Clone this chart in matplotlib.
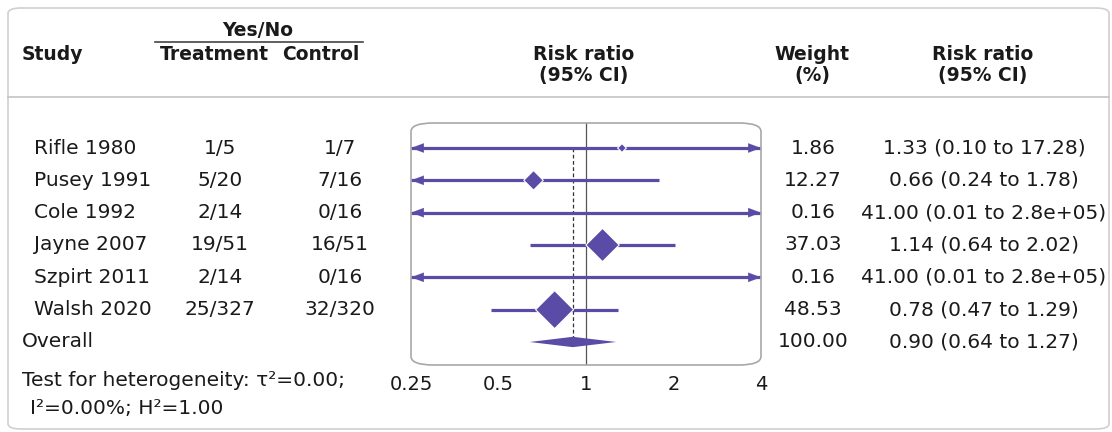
import matplotlib

matplotlib.use("Agg")
import matplotlib.pyplot as plt
from matplotlib.patches import FancyBboxPatch, Polygon
import numpy as np

plt.rcParams["font.family"] = ["DejaVu Sans"]

# --- study-level data --------------------------------------------------------
studies = ["Rifle 1980", "Pusey 1991", "Cole 1992", "Jayne 2007", "Szpirt 2011", "Walsh 2020"]
treatment = ["1/5", "5/20", "2/14", "19/51", "2/14", "25/327"]
control = ["1/7", "7/16", "0/16", "16/51", "0/16", "32/320"]
rr = [1.33, 0.66, 41.00, 1.14, 41.00, 0.78]
ci_low = [0.10, 0.24, 0.01, 0.64, 0.01, 0.47]
ci_high = [17.28, 1.78, 2.8e05, 2.02, 2.8e05, 1.29]
ci_text = ["1.33 (0.10 to 17.28)", "0.66 (0.24 to 1.78)", "41.00 (0.01 to 2.8e+05)",
           "1.14 (0.64 to 2.02)", "41.00 (0.01 to 2.8e+05)", "0.78 (0.47 to 1.29)"]
weights = [1.86, 12.27, 0.16, 37.03, 0.16, 48.53]

overall_rr = 0.90
overall_low = 0.64
overall_high = 1.27
overall_weight = 100.00
overall_text = "0.90 (0.64 to 1.27)"

x_ticks = [0.25, 0.5, 1, 2, 4]
x_tick_labels = ["0.25", "0.5", "1", "2", "4"]

PURPLE = "#5a4ca6"
TEXT = "#1a1a1a"
W, H = 1112, 432
ROW0, ROW_STEP = 148, 32.33
BODY = 14.5
HEAD = 13.5


def fx(x):
    return x / W


def fy(y):
    return 1 - y / H


def put(x, y, s, ha="center", weight="normal", size=BODY):
    fig.text(fx(x), fy(y), s, ha=ha, va="center", fontsize=size,
             fontweight=weight, color=TEXT)


fig = plt.figure(figsize=(W / 100, H / 100), dpi=100)

# outer rounded frame and header rule
fig.patches.append(FancyBboxPatch(
    (fx(8), fy(429)), fx(1101), 421 / H,
    boxstyle="round,pad=0,rounding_size=0.012",
    transform=fig.transFigure, facecolor="none", edgecolor="#d0d0d0", lw=1.2))
fig.add_artist(plt.Line2D([fx(8), fx(1109)], [fy(97), fy(97)],
                          color="#c4c4c4", lw=1.2))
fig.add_artist(plt.Line2D([fx(155), fx(363)], [fy(42), fy(42)],
                          color="#444444", lw=1.2))

# header
put(22, 54, "Study", ha="left", weight="bold", size=HEAD)
put(258, 30, "Yes/No", weight="bold", size=HEAD)
put(214, 54, "Treatment", weight="bold", size=HEAD)
put(321, 54, "Control", weight="bold", size=HEAD)
put(584, 54, "Risk ratio", weight="bold", size=HEAD)
put(584, 76, "(95% CI)", weight="bold", size=HEAD)
put(812, 54, "Weight", weight="bold", size=HEAD)
put(812, 76, "(%)", weight="bold", size=HEAD)
put(983, 54, "Risk ratio", weight="bold", size=HEAD)
put(983, 76, "(95% CI)", weight="bold", size=HEAD)

# table rows
for i, name in enumerate(studies):
    y = ROW0 + i * ROW_STEP
    put(34, y, name, ha="left")
    put(220, y, treatment[i])
    put(340, y, control[i])
    put(813, y, f"{weights[i]:.2f}")
    put(984, y, ci_text[i])

y_overall = ROW0 + len(studies) * ROW_STEP
put(22, y_overall, "Overall", ha="left")
put(813, y_overall, f"{overall_weight:.2f}")
put(984, y_overall, overall_text)
put(22, 380, "Test for heterogeneity: τ²=0.00;", ha="left")
put(30, 408, "I²=0.00%; H²=1.00", ha="left")

# forest panel
left, right, top, bottom = 411, 761, 123, 365
fig.patches.append(FancyBboxPatch(
    (fx(left), fy(bottom)), fx(right - left), (bottom - top) / H,
    boxstyle="round,pad=0,rounding_size=0.02",
    transform=fig.transFigure, facecolor="none", edgecolor="#a8a8a8", lw=1.2))

ax = fig.add_axes([fx(left), fy(bottom), fx(right - left), (bottom - top) / H])
ax.set_xscale("log", base=2)
xmin, xmax = x_ticks[0], x_ticks[-1]
n = len(studies)
ax.set_ylim((bottom - ROW0) / ROW_STEP, (top - ROW0) / ROW_STEP)
ax.patch.set_alpha(0)
for sp in ax.spines.values():
    sp.set_visible(False)

ax.axvline(1, color="#555555", lw=0.9, zorder=1)
ax.plot([overall_rr, overall_rr], [0, n], color="#333333", lw=0.9,
        ls=(0, (3, 2)), zorder=1)

arrow_kw = dict(arrowstyle="-|>,head_length=0.7,head_width=0.26", color=PURPLE,
                lw=0.1, shrinkA=0, shrinkB=0, mutation_scale=13)
for i in range(n):
    lo = max(ci_low[i], xmin)
    hi = min(ci_high[i], xmax)
    ax.plot([lo, hi], [i, i], color=PURPLE, lw=2.3, solid_capstyle="butt", zorder=2)
    if ci_low[i] < xmin:
        ax.annotate("", xy=(xmin, i), xytext=(xmin * 1.1, i), arrowprops=arrow_kw)
    if ci_high[i] > xmax:
        ax.annotate("", xy=(xmax, i), xytext=(xmax / 1.1, i), arrowprops=arrow_kw)

# study markers: area proportional to weight
ax.scatter(rr, np.arange(n), s=np.array(weights) * 7.6 + 6, marker="D",
           color=PURPLE, edgecolors="white", linewidths=0.8, zorder=3)

h = 0.16
ax.add_patch(Polygon([(overall_low, n), (overall_rr, n - h), (overall_high, n),
                      (overall_rr, n + h)], closed=True, color=PURPLE, lw=0, zorder=3))

ax.set_xlim(xmin, xmax)
ax.set_xticks(x_ticks)
ax.set_xticklabels(x_tick_labels)
ax.minorticks_off()
ax.tick_params(axis="x", length=0, pad=7, labelsize=14, labelcolor=TEXT)
ax.set_yticks([])

fig.savefig("out.png", dpi=100)
